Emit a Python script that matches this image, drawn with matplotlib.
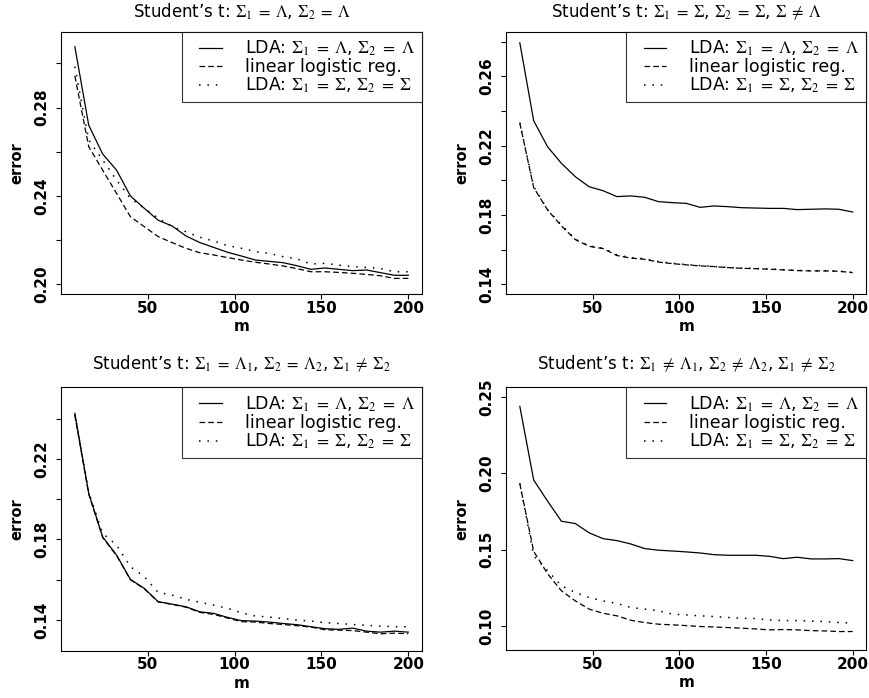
import numpy as np
import matplotlib
matplotlib.use('Agg')
import matplotlib.pyplot as plt
from matplotlib.lines import Line2D
from matplotlib.legend_handler import HandlerLine2D

plt.rcParams['font.family'] = 'DejaVu Sans'
plt.rcParams['mathtext.fontset'] = 'stix'

###Sample sizes
m = list(range(8, 201, 8))

###Panel 1: Sigma1 = Lambda, Sigma2 = Lambda
p1_lda_lam = [0.3075, 0.2720, 0.2590, 0.2517, 0.2400, 0.2344, 0.2290, 0.2264, 0.2219, 0.2189,
              0.2167, 0.2145, 0.2128, 0.2110, 0.2104, 0.2098, 0.2084, 0.2068, 0.2074, 0.2068,
              0.2062, 0.2065, 0.2053, 0.2041, 0.2041]
p1_logreg = [0.2943, 0.2623, 0.2517, 0.2412, 0.2306, 0.2261, 0.2216, 0.2189, 0.2163, 0.2143,
             0.2133, 0.2121, 0.2110, 0.2100, 0.2092, 0.2083, 0.2071, 0.2057, 0.2057, 0.2054,
             0.2050, 0.2045, 0.2039, 0.2027, 0.2027]
p1_lda_sig = [0.2985, 0.2653, 0.2563, 0.2472, 0.2389, 0.2344, 0.2299, 0.2261, 0.2238, 0.2213,
              0.2196, 0.2175, 0.2163, 0.2148, 0.2140, 0.2125, 0.2115, 0.2092, 0.2095, 0.2087,
              0.2080, 0.2077, 0.2072, 0.2057, 0.2057]

###Panel 2: Sigma1 = Sigma, Sigma2 = Sigma, Sigma != Lambda
p2_lda_lam = [0.2794, 0.2344, 0.2194, 0.2098, 0.2021, 0.1963, 0.1940, 0.1906, 0.1910, 0.1902,
              0.1877, 0.1871, 0.1867, 0.1844, 0.1852, 0.1848, 0.1842, 0.1840, 0.1838, 0.1838,
              0.1831, 0.1833, 0.1835, 0.1833, 0.1817]
p2_logreg = [0.2330, 0.1958, 0.1829, 0.1737, 0.1658, 0.1619, 0.1606, 0.1566, 0.1551, 0.1544,
             0.1528, 0.1519, 0.1512, 0.1506, 0.1502, 0.1496, 0.1492, 0.1490, 0.1487, 0.1483,
             0.1479, 0.1477, 0.1477, 0.1475, 0.1467]
p2_lda_sig = [0.2333, 0.1963, 0.1831, 0.1742, 0.1660, 0.1621, 0.1608, 0.1569, 0.1554, 0.1548,
              0.1531, 0.1521, 0.1514, 0.1508, 0.1503, 0.1497, 0.1493, 0.1491, 0.1488, 0.1484,
              0.1480, 0.1478, 0.1478, 0.1476, 0.1468]

###Panel 3: Sigma1 = Lambda1, Sigma2 = Lambda2, Sigma1 != Sigma2
p3_lda_lam = [0.2426, 0.2029, 0.1813, 0.1723, 0.1602, 0.1557, 0.1491, 0.1479, 0.1466, 0.1441,
              0.1433, 0.1413, 0.1397, 0.1395, 0.1390, 0.1383, 0.1377, 0.1367, 0.1357, 0.1354,
              0.1360, 0.1345, 0.1340, 0.1345, 0.1340]
p3_logreg = [0.2415, 0.2025, 0.1810, 0.1720, 0.1600, 0.1555, 0.1490, 0.1478, 0.1464, 0.1438,
             0.1428, 0.1410, 0.1392, 0.1390, 0.1383, 0.1378, 0.1372, 0.1365, 0.1352, 0.1350,
             0.1348, 0.1340, 0.1332, 0.1335, 0.1332]
p3_lda_sig = [0.2420, 0.2035, 0.1830, 0.1772, 0.1665, 0.1615, 0.1537, 0.1524, 0.1503, 0.1488,
              0.1474, 0.1458, 0.1436, 0.1420, 0.1415, 0.1407, 0.1400, 0.1395, 0.1387, 0.1383,
              0.1378, 0.1374, 0.1370, 0.1367, 0.1367]

###Panel 4: Sigma1 != Lambda1, Sigma2 != Lambda2, Sigma1 != Sigma2
p4_lda_lam = [0.2439, 0.1956, 0.1818, 0.1686, 0.1671, 0.1610, 0.1572, 0.1559, 0.1537, 0.1507,
              0.1496, 0.1491, 0.1485, 0.1478, 0.1467, 0.1463, 0.1463, 0.1463, 0.1456, 0.1441,
              0.1450, 0.1439, 0.1439, 0.1441, 0.1428]
p4_logreg = [0.1932, 0.1489, 0.1342, 0.1230, 0.1164, 0.1110, 0.1083, 0.1066, 0.1037, 0.1022,
             0.1011, 0.1007, 0.1002, 0.0996, 0.0993, 0.0989, 0.0985, 0.0980, 0.0974, 0.0976,
             0.0974, 0.0969, 0.0967, 0.0963, 0.0963]
p4_lda_sig = [0.1935, 0.1460, 0.1362, 0.1263, 0.1219, 0.1186, 0.1164, 0.1147, 0.1121, 0.1110,
              0.1099, 0.1077, 0.1072, 0.1066, 0.1061, 0.1055, 0.1050, 0.1048, 0.1039, 0.1035,
              0.1035, 0.1031, 0.1029, 0.1022, 0.1018]

titles = [r"Student’s t: $\Sigma_1\;=\;\Lambda$, $\Sigma_2\;=\;\Lambda$",
          r"Student’s t: $\Sigma_1\;=\;\Sigma$, $\Sigma_2\;=\;\Sigma$, $\Sigma\;\neq\;\Lambda$",
          r"Student’s t: $\Sigma_1\;=\;\Lambda_1$, $\Sigma_2\;=\;\Lambda_2$, $\Sigma_1\;\neq\;\Sigma_2$",
          r"Student’s t: $\Sigma_1\;\neq\;\Lambda_1$, $\Sigma_2\;\neq\;\Lambda_2$, $\Sigma_1\;\neq\;\Sigma_2$"]
legend_labels = [r"LDA: $\Sigma_1\ =\ \Lambda$, $\Sigma_2\ =\ \Lambda$",
                 "linear logistic reg.",
                 r"LDA: $\Sigma_1\ =\ \Sigma$, $\Sigma_2\ =\ \Sigma$"]
xticks = [50, 100, 150, 200]
yticks = [[0.20, 0.22, 0.24, 0.26, 0.28, 0.30],
          [0.14, 0.16, 0.18, 0.20, 0.22, 0.24, 0.26, 0.28],
          [0.14, 0.16, 0.18, 0.20, 0.22, 0.24],
          [0.10, 0.15, 0.20, 0.25]]
ylabels = [["0.20", "", "0.24", "", "0.28", ""],
           ["0.14", "", "0.18", "", "0.22", "", "0.26", ""],
           ["0.14", "", "0.18", "", "0.22", ""],
           ["0.10", "0.15", "0.20", "0.25"]]
ylims = [(0.1955, 0.3143), (0.1342, 0.2858), (0.1248, 0.2555), (0.0842, 0.2564)]

series = [(p1_lda_lam, p1_logreg, p1_lda_sig),
          (p2_lda_lam, p2_logreg, p2_lda_sig),
          (p3_lda_lam, p3_logreg, p3_lda_sig),
          (p4_lda_lam, p4_logreg, p4_lda_sig)]

###Axes boxes in pixels (left, top, right, bottom)
W, H = 870, 698
boxes = [(61.5, 31.7, 421.6, 294.3), (506.5, 31.7, 866.0, 294.3),
         (61.5, 387.3, 421.6, 650.7), (506.5, 387.3, 866.0, 650.0)]
title_gap = [20.0, 20.0, 23.3, 23.3]

fig = plt.figure(figsize=(W/100, H/100), dpi=100)

styles = [dict(ls='-', lw=0.9), dict(ls=(0, (4.5, 2.5)), lw=0.9),
          dict(ls=(0, (1, 4.5)), lw=1.1)]

for i in range(4):
	l, t, r, b = boxes[i]
	ax = fig.add_axes([l/W, 1 - b/H, (r - l)/W, (b - t)/H])
	for y, st in zip(series[i], styles):
		ax.plot(m, y, color='black', **st)
	ax.set_xlim(8 - 0.04*192, 200 + 0.04*192)
	ax.set_ylim(*ylims[i])
	ax.set_xticks(xticks)
	ax.set_xticklabels([str(v) for v in xticks], fontweight='bold', fontsize=11)
	ax.set_yticks(yticks[i])
	ax.set_yticklabels(ylabels[i], fontweight='bold', fontsize=11, rotation=90, va='center')
	ax.tick_params(direction='out', length=3.6, width=0.8, color='black')
	ax.tick_params(axis='x', pad=1.2)
	ax.tick_params(axis='y', pad=5)
	for sp in ax.spines.values():
		sp.set_linewidth(0.8)
	hgt = b - t
	wid = r - l
	ax.text(0.5, 1 + title_gap[i]/hgt, titles[i], transform=ax.transAxes,
	        ha='center', va='center', fontsize=12)
	ax.text(0.5, -32.4/hgt, 'm', transform=ax.transAxes, ha='center', va='center',
	        fontsize=11, fontweight='bold')
	ax.text(-44.8/wid, 0.5, 'error', transform=ax.transAxes, ha='center', va='center',
	        rotation=90, fontsize=10.5, fontweight='bold')
	leg = ax.legend(legend_labels, loc='upper right', fontsize=12.5, frameon=True, fancybox=False,
	                borderaxespad=0, handlelength=1.9, handletextpad=1.3, labelspacing=0.0,
	                borderpad=0.4, handler_map={Line2D: HandlerLine2D(xpad=0.6)})
	leg.get_frame().set_edgecolor('black')
	leg.get_frame().set_linewidth(0.8)

plt.savefig('out.png', dpi=100)
